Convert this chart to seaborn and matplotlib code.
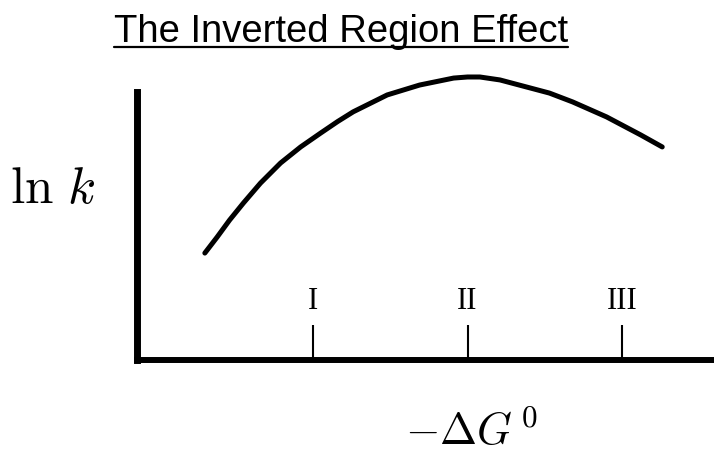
import matplotlib
matplotlib.use("Agg")
import matplotlib.pyplot as plt
import seaborn as sns
import pandas as pd
from matplotlib.lines import Line2D

# ---- data ----
free_energy = [0.30, 0.38, 0.46, 0.55, 0.66, 0.79, 0.92, 1.05, 1.16, 1.26,
               1.48, 1.69, 1.91, 2.00, 2.08, 2.21, 2.53, 2.68, 2.90, 3.12, 3.26]
ln_rate = [3.99, 4.59, 5.22, 5.86, 6.60, 7.35, 7.95, 8.47, 8.90, 9.26,
           9.89, 10.26, 10.52, 10.56, 10.56, 10.45, 9.96, 9.63, 9.07, 8.40, 7.95]
tick_positions = [1, 2, 3]
tick_labels = ["I", "II", "III"]
title_text = "The Inverted Region Effect"
x_label = r"$-\Delta G^{\,0}$"
y_label = r"$\ln\,k$"

df = pd.DataFrame({"dG": free_energy, "lnk": ln_rate})

sns.set_theme(style="white")
plt.rcParams["mathtext.fontset"] = "cm"

fig = plt.figure(figsize=(7.14, 4.55), dpi=100)
ax = fig.add_axes([137 / 714, 95 / 455, 577 / 714, 308.2 / 455])

sns.lineplot(data=df, x="dG", y="lnk", ax=ax, color="black", linewidth=3.6,
             sort=False, estimator=None, solid_capstyle="round",
             solid_joinstyle="round")

ax.set_xlim(-0.139, 3.595)
ax.set_ylim(0, 11.5)

for side in ["top", "right"]:
    ax.spines[side].set_visible(False)
ax.spines["left"].set_bounds(0, 10)
ax.spines["left"].set_linewidth(5)
ax.spines["bottom"].set_linewidth(4.3)
for side in ["left", "bottom"]:
    ax.spines[side].set_color("black")

ax.set_yticks([])
ax.set_xticks(tick_positions)
ax.set_xticklabels([])
ax.tick_params(axis="x", direction="in", length=25, width=1.5, color="black",
               bottom=True)

for pos, lab in zip(tick_positions, tick_labels):
    ax.text(pos, 2.2, lab, ha="center", va="center", fontsize=22,
            family="Liberation Serif", color="black")

ax.set_xlabel(x_label, fontsize=32, color="black")
ax.xaxis.label.set_va("baseline")
ax.xaxis.set_label_coords(0.58, -0.275)

ax.set_ylabel(y_label, fontsize=37, color="black", rotation=0)
ax.yaxis.label.set_va("baseline")
ax.yaxis.label.set_ha("center")
ax.yaxis.set_label_coords(-0.1456, 0.509)

title = fig.text(341 / 714, 1 - 42 / 455, title_text, ha="center",
                 va="baseline", fontsize=27.5, family="Liberation Sans",
                 color="black")

fig.canvas.draw()
bb = title.get_window_extent().transformed(fig.transFigure.inverted())
uy = 1 - 47 / 455
fig.add_artist(Line2D([bb.x0, bb.x1], [uy, uy], transform=fig.transFigure,
                      color="black", linewidth=1.6))

fig.savefig("out.png", dpi=100)
